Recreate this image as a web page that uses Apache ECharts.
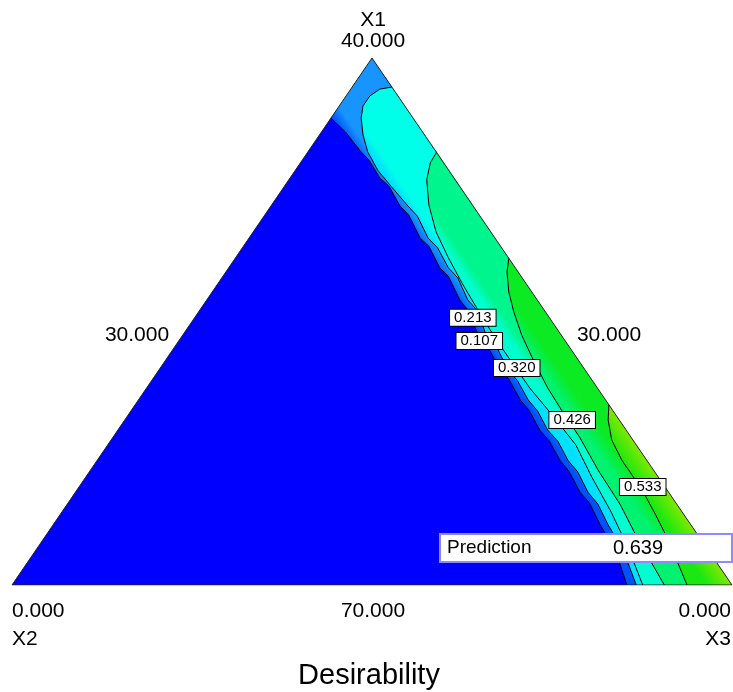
<!DOCTYPE html>
<html>
<head>
<meta charset="utf-8">
<script src="https://cdn.jsdelivr.net/npm/echarts@6/dist/echarts.min.js"></script>
<style>
  html, body { margin: 0; padding: 0; background: #fff; }
  #chart { width: 733px; height: 692px; }
</style>
</head>
<body>
<div id="chart"></div>
<script>
// plot coordinates: x = % along the base (X2 corner = 0, X3 corner = 100), y = % of height (base = 0, X1 apex = 100)
const triangle = [[0, 0], [50, 100], [100, 0], [0, 0]];

// contour lines
const c107 = [[44.3, 88.6], [46.3, 86.0], [48.3, 82.5], [49.6, 80.6], [51.1, 77.2], [52.3, 75.8], [53.9, 71.9], [55.1, 70.2], [56.7, 65.8], [57.9, 64.3], [59.4, 60.2], [60.6, 58.6], [62.2, 54.1], [63.4, 52.0], [64.9, 46.9], [66.2, 45.0], [67.8, 40.8], [69.0, 39.1], [70.6, 35.1], [71.8, 33.2], [73.3, 29.4], [74.6, 27.4], [76.1, 23.7], [77.4, 21.5], [78.9, 17.6], [80.2, 15.6], [81.7, 11.4], [83.8, 6.6], [85.4, 0]];
const c213 = [[52.8, 94.5], [51.1, 94.1], [49.7, 92.8], [48.75, 90.9], [48.5, 88.6], [48.75, 85.4], [49.4, 82.2], [50.8, 78.7], [52.5, 75.9], [55.0, 71.9], [56.3, 70.0], [57.8, 65.8], [59.1, 64.0], [60.6, 60.2], [61.9, 58.3], [63.3, 54.1], [64.6, 52.1], [66.0, 46.9], [67.4, 44.9], [68.9, 40.8], [70.2, 38.8], [71.7, 35.1], [73.0, 33.0], [74.4, 29.4], [75.8, 27.3], [77.2, 23.7], [78.6, 21.4], [80.0, 17.6], [81.4, 15.3], [82.8, 11.4], [84.9, 6.6], [86.7, 0]];
const c320 = [[59.0, 82.2], [58.1, 80.1], [57.6, 76.9], [57.9, 72.1], [58.9, 67.0], [60.6, 62.1], [62.5, 57.3], [64.7, 52.2], [67.1, 46.9], [69.4, 42.3], [71.9, 37.4], [75.0, 32.3], [78.3, 26.6], [80.6, 20.3], [83.2, 13.9], [85.6, 7.0], [87.6, 0]];
const c426 = [[69.0, 62.0], [68.75, 59.4], [69.0, 55.6], [69.7, 51.8], [70.8, 47.4], [72.4, 42.7], [74.4, 37.4], [76.5, 32.8], [78.9, 27.9], [81.4, 21.8], [84.5, 15.2], [87.0, 8.5], [89.0, 3.8], [90.6, 0]];
const c533 = [[82.9, 34.2], [82.8, 31.3], [83.3, 27.5], [84.7, 23.7], [86.4, 20.3], [87.9, 17.1], [89.4, 13.3], [90.8, 9.5], [92.2, 5.1], [93.75, 0]];

const levels = ['0.107', '0.213', '0.320', '0.426', '0.533'];
const labelPos = [[64.9, 46.3], [64.0, 50.7], [70.1, 41.2], [77.8, 31.3], [87.6, 18.6]];
const prediction = '0.639';

// bands between neighbouring contours (closing segments run along the triangle edges)
const bands = [
  { poly: [[0, 0]].concat(c107), lo: null, hi: null, colors: ['#0000ff', '#0000ff'] },
  { poly: [[50, 100]].concat(c107, c213.slice().reverse()), lo: c107, hi: c213, colors: ['#0050ff', '#1894ff'] },
  { poly: c213.concat(c320.slice().reverse()), lo: c213, hi: c320, colors: ['#00e0ff', '#00ffe8'] },
  { poly: c320.concat(c426.slice().reverse()), lo: c320, hi: c426, colors: ['#00ffd0', '#00f58c'] },
  { poly: c426.concat(c533.slice().reverse()), lo: c426, hi: c533, colors: ['#00f270', '#0cea24'] },
  { poly: c533.concat([[100, 0]]), lo: c533, hi: [[100, 0], [82.9, 34.2]], colors: ['#1ae812', '#80e800'] }
];

const chart = echarts.init(document.getElementById('chart'), null, { renderer: 'canvas' });
const font = '"Liberation Sans", Arial, sans-serif';

// normal to the X1-X3 edge in pixel space, used to orient the shading
const nx = 0.826, ny = -0.564;
const proj = p => p[0] * nx + p[1] * ny;

function renderBand(params, api) {
  const b = bands[params.dataIndex];
  const points = b.poly.map(p => api.coord(p));
  let fill = b.colors[0];
  if (b.lo) {
    const lo = b.lo.map(p => api.coord(p));
    const hi = b.hi.map(p => api.coord(p));
    const mean = arr => arr.reduce((s, p) => s + proj(p), 0) / arr.length;
    const pLo = mean(lo), pHi = mean(hi);
    const c = points.reduce((s, p) => [s[0] + p[0] / points.length, s[1] + p[1] / points.length], [0, 0]);
    const pc = proj(c);
    fill = {
      type: 'linear', global: true,
      x: c[0] + (pLo - pc) * nx, y: c[1] + (pLo - pc) * ny,
      x2: c[0] + (pHi - pc) * nx, y2: c[1] + (pHi - pc) * ny,
      colorStops: [{ offset: 0, color: b.colors[0] }, { offset: 1, color: b.colors[1] }]
    };
  }
  return { type: 'polygon', shape: { points }, style: { fill: fill, stroke: null } };
}

const contourSeries = [c107, c213, c320, c426, c533].map((c, i) => ({
  name: levels[i],
  type: 'line',
  data: c,
  showSymbol: false,
  silent: true,
  lineStyle: { color: '#000', width: 1 },
  z: 3
}));

chart.setOption({
  animation: false,
  grid: { left: 12, right: 1, top: 58, bottom: 107 },
  xAxis: { type: 'value', min: 0, max: 100, show: false },
  yAxis: { type: 'value', min: 0, max: 100, show: false },
  series: [
    {
      type: 'custom',
      renderItem: renderBand,
      data: bands.map((b, i) => [i]),
      silent: true,
      z: 1
    },
    {
      type: 'line',
      data: triangle,
      showSymbol: false,
      silent: true,
      lineStyle: { color: '#222', width: 1 },
      z: 4
    },
    ...contourSeries,
    {
      type: 'scatter',
      data: labelPos.map((p, i) => [p[0], p[1], levels[i]]),
      symbolSize: 0,
      itemStyle: { color: '#fff', opacity: 1 },
      silent: true,
      z: 5,
      label: {
        show: true,
        position: 'inside',
        formatter: p => p.value[2],
        fontFamily: font,
        fontSize: 15,
        color: '#000',
        opacity: 1,
        backgroundColor: '#fff',
        borderColor: '#000',
        borderWidth: 1,
        padding: [1, 4, 0, 4]
      }
    }
  ],
  graphic: [
    { type: 'text', z: 100, style: { text: 'X1', x: 373, y: 20, textAlign: 'center', textVerticalAlign: 'middle', font: '21px ' + font, fill: '#000' } },
    { type: 'text', z: 100, style: { text: '40.000', x: 373, y: 41, textAlign: 'center', textVerticalAlign: 'middle', font: '21px ' + font, fill: '#000' } },
    { type: 'text', z: 100, style: { text: '30.000', x: 137, y: 335, textAlign: 'center', textVerticalAlign: 'middle', font: '21px ' + font, fill: '#000' } },
    { type: 'text', z: 100, style: { text: '30.000', x: 609, y: 335, textAlign: 'center', textVerticalAlign: 'middle', font: '21px ' + font, fill: '#000' } },
    { type: 'text', z: 100, style: { text: '0.000', x: 12, y: 611, textAlign: 'left', textVerticalAlign: 'middle', font: '21px ' + font, fill: '#000' } },
    { type: 'text', z: 100, style: { text: 'X2', x: 12, y: 639, textAlign: 'left', textVerticalAlign: 'middle', font: '21px ' + font, fill: '#000' } },
    { type: 'text', z: 100, style: { text: '70.000', x: 373, y: 611, textAlign: 'center', textVerticalAlign: 'middle', font: '21px ' + font, fill: '#000' } },
    { type: 'text', z: 100, style: { text: '0.000', x: 731, y: 611, textAlign: 'right', textVerticalAlign: 'middle', font: '21px ' + font, fill: '#000' } },
    { type: 'text', z: 100, style: { text: 'X3', x: 731, y: 639, textAlign: 'right', textVerticalAlign: 'middle', font: '21px ' + font, fill: '#000' } },
    { type: 'text', z: 100, style: { text: 'Desirability', x: 369, y: 676, textAlign: 'center', textVerticalAlign: 'middle', font: '29px ' + font, fill: '#000' } },
    { type: 'rect', z: 100, shape: { x: 440, y: 534, width: 292, height: 28 }, style: { fill: '#fff', stroke: '#8c8cff', lineWidth: 2 } },
    { type: 'text', z: 101, style: { text: 'Prediction', x: 447, y: 548, textAlign: 'left', textVerticalAlign: 'middle', font: '19px ' + font, fill: '#000' } },
    { type: 'text', z: 101, style: { text: prediction, x: 638, y: 548, textAlign: 'center', textVerticalAlign: 'middle', font: '20px ' + font, fill: '#000' } }
  ]
});

window.addEventListener('resize', () => chart.resize());
</script>
</body>
</html>
